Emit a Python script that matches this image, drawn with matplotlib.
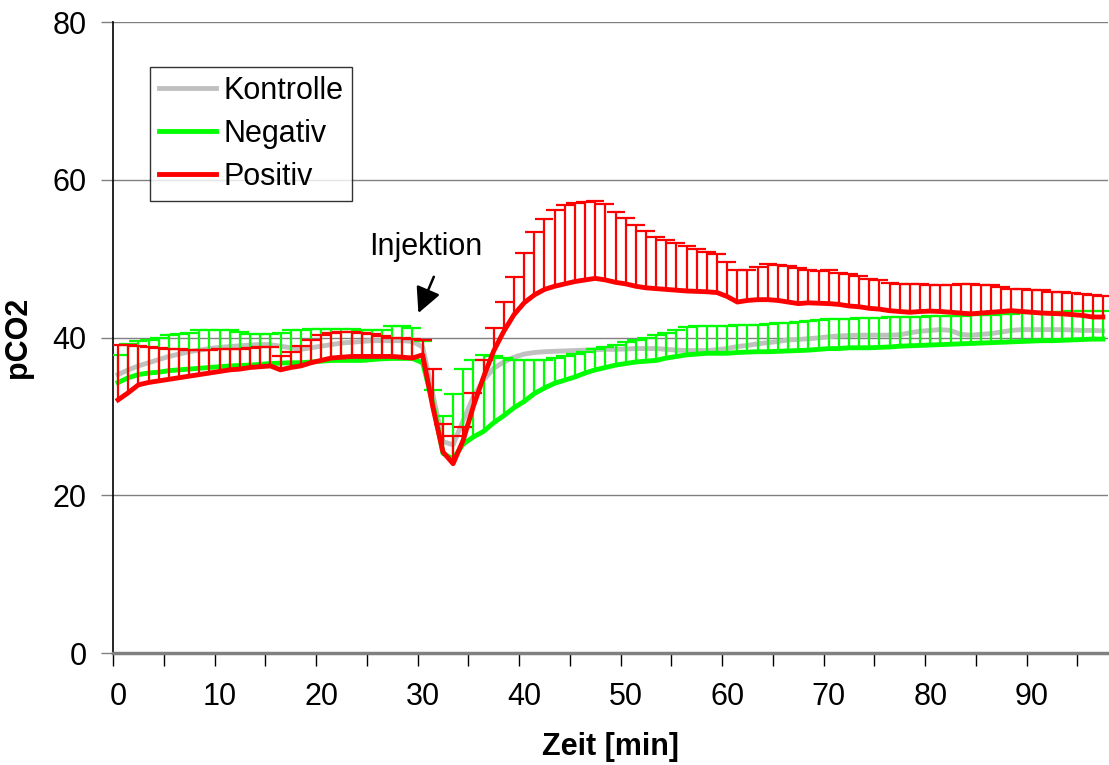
import matplotlib
matplotlib.use("Agg")
import matplotlib.pyplot as plt
import numpy as np

plt.rcParams['font.family'] = ['Liberation Sans', 'DejaVu Sans']

# Zeit-Kategorien (Minuten 0..97)
zeit = list(range(98))

# Kontrolle (Mittelwert)
kontrolle = [
    35.3, 35.9, 36.4, 36.8, 37.2, 37.6, 37.9, 38.2, 38.4, 38.6,
    38.75, 38.85, 38.95, 39.05, 39.1, 39.1, 38.9, 38.7, 38.5, 38.7,
    38.9, 39.1, 39.3, 39.4, 39.5, 39.6, 39.6, 39.6, 39.6, 39.5,
    38.8, 32.8, 26.8, 26.4, 29.5, 32.5, 34.6, 36.1, 36.9, 37.5,
    37.9, 38.1, 38.2, 38.25, 38.3, 38.35, 38.4, 38.45, 38.5, 38.5,
    38.55, 38.6, 38.6, 38.6, 38.5, 38.4, 38.35, 38.35, 38.35, 38.45,
    38.6, 38.85, 39.0, 39.2, 39.35, 39.5, 39.7, 39.75, 39.85, 39.95,
    40.1, 40.2, 40.25, 40.3, 40.3, 40.3, 40.3, 40.35, 40.6, 40.8,
    40.9, 41.0, 40.9, 40.4, 40.3, 40.4, 40.5, 40.7, 40.9, 41.0,
    41.0, 41.0, 41.0, 41.0, 40.95, 40.9, 40.9, 40.85,
]

# Negativ (Mittelwert und obere Fehlergrenze)
negativ = [
    34.3, 34.9, 35.3, 35.5, 35.6, 35.8, 35.9, 36.0, 36.1, 36.2,
    36.3, 36.4, 36.45, 36.5, 36.6, 36.7, 36.75, 36.8, 36.8, 36.9,
    37.0, 37.1, 37.1, 37.1, 37.1, 37.2, 37.3, 37.35, 37.35, 37.35,
    36.8, 31.7, 25.3, 24.6, 26.5, 27.4, 28.1, 29.2, 30.1, 31.1,
    31.9, 32.9, 33.6, 34.2, 34.6, 35.0, 35.5, 35.9, 36.2, 36.5,
    36.7, 36.9, 37.0, 37.1, 37.4, 37.6, 37.8, 37.9, 38.0, 38.0,
    38.0, 38.1, 38.15, 38.2, 38.2, 38.25, 38.3, 38.35, 38.4, 38.5,
    38.6, 38.6, 38.7, 38.7, 38.7, 38.75, 38.8, 38.9, 38.95, 39.0,
    39.05, 39.1, 39.15, 39.2, 39.25, 39.3, 39.35, 39.4, 39.45, 39.5,
    39.55, 39.6, 39.6, 39.65, 39.7, 39.75, 39.8, 39.8,
]
negativ_oben = [
    37.8, 39.2, 39.5, 39.7, 40.0, 40.3, 40.5, 40.6, 40.9, 41.0,
    41.0, 40.9, 40.7, 40.5, 40.4, 40.4, 40.6, 40.9, 41.0, 41.1,
    41.1, 41.1, 41.1, 41.1, 41.0, 40.9, 41.0, 41.5, 41.5, 41.2,
    39.6, 33.3, 30.0, 32.9, 36.0, 37.1, 37.8, 37.6, 37.35, 37.2,
    37.1, 37.1, 37.2, 37.35, 37.65, 37.9, 38.2, 38.5, 38.8, 39.1,
    39.4, 39.7, 40.0, 40.3, 40.6, 40.95, 41.3, 41.45, 41.5, 41.5,
    41.5, 41.6, 41.65, 41.65, 41.7, 41.8, 41.9, 42.0, 42.1, 42.2,
    42.3, 42.35, 42.4, 42.45, 42.5, 42.5, 42.55, 42.6, 42.6, 42.65,
    42.7, 42.7, 42.7, 42.75, 42.8, 42.85, 42.9, 42.95, 43.0, 43.05,
    43.1, 43.15, 43.2, 43.25, 43.3, 43.3, 43.35, 43.4,
]

# Positiv (Mittelwert und obere Fehlergrenze)
positiv = [
    32.1, 33.0, 34.0, 34.3, 34.5, 34.7, 34.9, 35.1, 35.3, 35.5,
    35.7, 35.9, 36.0, 36.2, 36.3, 36.4, 35.9, 36.2, 36.4, 36.8,
    37.1, 37.4, 37.5, 37.6, 37.6, 37.6, 37.6, 37.6, 37.5, 37.4,
    37.8, 31.2, 25.5, 24.0, 27.0, 31.3, 35.0, 38.3, 40.8, 42.9,
    44.4, 45.4, 46.1, 46.5, 46.8, 47.1, 47.3, 47.5, 47.3, 47.0,
    46.8, 46.5, 46.3, 46.2, 46.1, 46.0, 45.9, 45.85, 45.8, 45.7,
    45.2, 44.5, 44.7, 44.8, 44.8, 44.7, 44.5, 44.3, 44.4, 44.35,
    44.3, 44.2, 44.0, 43.9, 43.7, 43.6, 43.4, 43.3, 43.2, 43.3,
    43.35, 43.3, 43.2, 43.1, 43.0, 43.1, 43.2, 43.3, 43.4, 43.3,
    43.2, 43.1, 43.05, 43.0, 42.9, 42.8, 42.6, 42.6,
]
positiv_oben = [
    39.0, 39.0, 38.9, 38.8, 38.7, 38.6, 38.5, 38.4, 38.4, 38.4,
    38.5, 38.6, 38.6, 38.7, 38.8, 38.8, 37.6, 38.2, 38.9, 39.7,
    40.3, 40.6, 40.75, 40.75, 40.6, 40.4, 40.2, 40.0, 39.9, 39.8,
    39.7, 36.0, 29.0, 27.5, 28.7, 33.0, 37.2, 41.2, 44.5, 47.7,
    50.7, 53.4, 55.0, 56.2, 56.8, 57.1, 57.2, 57.35, 56.9, 55.95,
    55.1, 54.3, 53.5, 52.8, 52.4, 52.0, 51.6, 51.2, 50.9, 50.6,
    49.6, 48.6, 48.6, 48.9, 49.3, 49.2, 49.1, 48.8, 48.6, 48.4,
    48.5, 48.2, 48.1, 47.8, 47.4, 47.3, 46.9, 46.8, 46.8, 46.8,
    46.7, 46.7, 46.6, 46.8, 46.8, 46.7, 46.6, 46.4, 46.2, 46.1,
    46.0, 46.0, 45.8, 45.75, 45.7, 45.5, 45.4, 45.3,
]

x = np.arange(len(zeit)) + 0.5
neg = np.array(negativ)
pos = np.array(positiv)
neg_err = np.array(negativ_oben) - neg
pos_err = np.array(positiv_oben) - pos

fig = plt.figure(figsize=(11.09, 7.65), dpi=100)
ax = fig.add_axes([0.1019, 0.1464, 0.8971, 0.8248])

fs = 22


def obere_fehler(mittel, fehler, farbe, z):
    # nur positive Fehlerbalken, untere Kappe ausblenden
    _, caps, _ = ax.errorbar(x, mittel, yerr=[np.zeros_like(fehler), fehler],
                             fmt='none', ecolor=farbe, elinewidth=1.6,
                             capsize=6.5, capthick=1.6, zorder=z)
    caps[0].set_visible(False)


# Kontrolle
ax.plot(x, kontrolle, color='#c0c0c0', lw=3.5, label='Kontrolle', zorder=3)

# Negativ
obere_fehler(neg, neg_err, '#00ff00', 4)
ax.plot(x, neg, color='#00ff00', lw=3.5, label='Negativ', zorder=5)

# Positiv
obere_fehler(pos, pos_err, '#ff0000', 6)
ax.plot(x, pos, color='#ff0000', lw=3.5, label='Positiv', zorder=7)

ax.set_xlim(0, len(zeit))
ax.set_ylim(0, 80)

# Gitter
for yv in [20, 40, 60, 80]:
    ax.axhline(yv, color='#808080', lw=1, zorder=1)
ax.axhline(0, color='#808080', lw=2.5, zorder=8, clip_on=False)

for s in ['top', 'right', 'bottom']:
    ax.spines[s].set_visible(False)
ax.spines['left'].set_color('black')
ax.spines['left'].set_linewidth(1.2)

ax.set_yticks([0, 20, 40, 60, 80])
ax.tick_params(axis='y', length=9, width=1, color='#808080', labelsize=fs, pad=10)

# x: Teilstriche alle 5 Kategorien, Beschriftung alle 10 Kategorien
ax.set_xticks(np.arange(0, 100, 5))
ax.set_xticklabels([])
ax.tick_params(axis='x', which='major', length=9, width=1, color='black')
ax.set_xticks(x[::10], minor=True)
ax.set_xticklabels([str(zeit[i]) for i in range(0, len(zeit), 10)], minor=True)
ax.tick_params(axis='x', which='minor', length=0, labelsize=fs, pad=21)

ax.set_xlabel('Zeit [min]', fontsize=fs, fontweight='bold', labelpad=14)
ax.set_ylabel('pCO2', fontsize=fs, fontweight='bold', labelpad=14)

ax.text(30.8, 51.5, 'Injektion', fontsize=fs, ha='center', va='center')
ax.annotate('', xy=(30.08, 43.1), xytext=(31.6, 47.7),
            arrowprops=dict(arrowstyle='-|>,head_length=0.7,head_width=0.35',
                            color='black', lw=1.8, mutation_scale=22,
                            shrinkA=0, shrinkB=0))

leg = ax.legend(loc='upper left', bbox_to_anchor=(0.037, 0.929), fontsize=fs,
                frameon=True, fancybox=False, edgecolor='black',
                handlelength=1.85, handletextpad=0.25, borderpad=0.3,
                labelspacing=0.42, borderaxespad=0)
leg.get_frame().set_linewidth(1)
leg.set_zorder(10)

fig.savefig('out.png', dpi=100)
